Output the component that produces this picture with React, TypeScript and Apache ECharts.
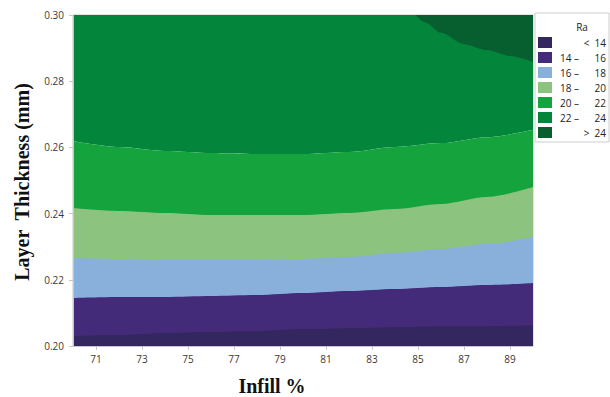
import React, { useEffect, useRef } from "react";
import * as echarts from "echarts";

// Infill (%) sample positions along each Ra contour line
const INFILL = [70, 72, 74, 76, 78, 80, 82, 84, 86, 88, 90];

// Layer thickness (mm) where Ra crosses each contour level
const RA14 = [0.203, 0.2033, 0.2039, 0.2042, 0.2045, 0.2051, 0.2054, 0.2057, 0.206, 0.206, 0.2063];
const RA16 = [0.2145, 0.2148, 0.2148, 0.2151, 0.2154, 0.216, 0.2166, 0.2172, 0.2178, 0.2184, 0.219];
const RA18 = [0.2266, 0.2263, 0.226, 0.226, 0.226, 0.2263, 0.2269, 0.2281, 0.2293, 0.2308, 0.2329];
const RA20 = [0.2417, 0.2408, 0.2402, 0.2396, 0.2396, 0.2396, 0.2402, 0.2414, 0.2429, 0.245, 0.248];
const RA22 = [0.2619, 0.2601, 0.2589, 0.2583, 0.258, 0.258, 0.2586, 0.2601, 0.2613, 0.2631, 0.2653];

// The Ra = 24 contour only exists in the upper-right corner
const INFILL_RA24 = [84.9, 85.3, 86, 87, 88, 89, 90];
const RA24 = [0.3, 0.2978, 0.2946, 0.2912, 0.2894, 0.2876, 0.2858];

const X_TICKS = [71, 73, 75, 77, 79, 81, 83, 85, 87, 89];
const Y_MIN = 0.2;
const Y_MAX = 0.3;
const Y_STEP = 0.02;

const BANDS = ["< 14", "14 – 16", "16 – 18", "18 – 20", "20 – 22", "22 – 24", "> 24"];
const BAND_COLORS = ["#34265f", "#442b79", "#88b0da", "#8cc47f", "#15a33e", "#03853c", "#075e2f"];

const SANS = "'Open Sans', 'DejaVu Sans', sans-serif";
const SERIF = "'Liberation Serif', 'Times New Roman', serif";

function bandSeries(
  bandIndex: number,
  xs: number[],
  ys: number[],
  origin: "start" | "end"
) {
  const color = BAND_COLORS[bandIndex];
  return {
    type: "line",
    name: BANDS[bandIndex],
    data: xs.map((x, i) => [x, ys[i]]),
    smooth: 0.3,
    smoothMonotone: "x",
    symbol: "none",
    showSymbol: false,
    silent: true,
    clip: true,
    lineStyle: { width: 0, color },
    itemStyle: { color },
    areaStyle: { color, opacity: 1, origin },
  };
}

// "14 – 16" keeps the low bound and dash on the left, the high bound flush right
function legendLabel(name: string) {
  if (name.includes("–")) {
    const [lo, hi] = name.split("–").map((s) => s.trim());
    return `{lo|${lo} –}{hi|${hi}}`;
  }
  return `{one|${name.replace(" ", "  ")}}`;
}

export default function App() {
  const ref = useRef<HTMLDivElement>(null);

  useEffect(() => {
    if (!ref.current) return;
    const chart = echarts.init(ref.current, null, { renderer: "svg" });

    const axisGrey = "#c6c6c6";
    const labelStyle = { fontFamily: SANS, fontSize: 10, color: "#3a3a3a" };
    const legendText = { fontFamily: SANS, fontSize: 10, color: "#222222" };

    chart.setOption({
      animation: false,
      backgroundColor: "#ffffff",
      grid: {
        left: 73,
        top: 15,
        right: 77,
        bottom: 51,
        show: true,
        borderColor: axisGrey,
        borderWidth: 1,
        backgroundColor: "transparent",
      },
      xAxis: {
        type: "value",
        min: 70,
        max: 90,
        z: 5,
        axisLine: { show: true, lineStyle: { color: axisGrey, width: 1 } },
        axisTick: {
          show: true,
          length: 4,
          customValues: X_TICKS,
          lineStyle: { color: axisGrey },
        },
        axisLabel: { ...labelStyle, margin: 8, customValues: X_TICKS },
        splitLine: { show: false },
      },
      yAxis: {
        type: "value",
        min: Y_MIN,
        max: Y_MAX,
        interval: Y_STEP,
        z: 5,
        axisLine: { show: true, lineStyle: { color: axisGrey, width: 1 } },
        axisTick: { show: true, length: 4, lineStyle: { color: axisGrey } },
        axisLabel: {
          ...labelStyle,
          margin: 9,
          formatter: (v: number) => v.toFixed(2),
        },
        splitLine: { show: false },
      },
      legend: {
        orient: "vertical",
        left: 535,
        top: 13,
        padding: [24, 3, 4, 3],
        itemGap: 4,
        itemWidth: 14,
        itemHeight: 11,
        icon: "rect",
        borderColor: "#cdcdcd",
        borderWidth: 1,
        backgroundColor: "transparent",
        selectedMode: false,
        data: BANDS,
        itemStyle: { borderWidth: 0 },
        formatter: legendLabel,
        textStyle: {
          ...legendText,
          rich: {
            lo: { ...legendText, padding: [0, 0, 0, 3], align: "left" },
            hi: { ...legendText, width: 27, align: "right" },
            one: { ...legendText, width: 49, align: "right" },
          },
        },
      },
      graphic: [
        {
          type: "text",
          x: 22,
          y: 182,
          z: 10,
          rotation: Math.PI / 2,
          style: {
            text: "Layer  Thickness (mm)",
            font: `bold 20px ${SERIF}`,
            fill: "#111111",
            align: "center",
            verticalAlign: "middle",
          },
        },
        {
          type: "text",
          x: 272,
          y: 386,
          z: 10,
          style: {
            text: "Infill %",
            font: `bold 20px ${SERIF}`,
            fill: "#111111",
            align: "center",
            verticalAlign: "middle",
          },
        },
        {
          type: "text",
          x: 582,
          y: 27,
          z: 10,
          style: {
            text: "Ra",
            font: `10px ${SANS}`,
            fill: "#222222",
            align: "center",
            verticalAlign: "middle",
          },
        },
      ],
      // Painted back to front: upper regions first, each lower band drawn over them
      series: [
        bandSeries(5, INFILL, RA22, "end"),
        bandSeries(6, INFILL_RA24, RA24, "end"),
        bandSeries(4, INFILL, RA22, "start"),
        bandSeries(3, INFILL, RA20, "start"),
        bandSeries(2, INFILL, RA18, "start"),
        bandSeries(1, INFILL, RA16, "start"),
        bandSeries(0, INFILL, RA14, "start"),
      ],
    });

    return () => chart.dispose();
  }, []);

  return (
    <div
      ref={ref}
      style={{
        position: "fixed",
        left: 0,
        top: 0,
        width: 610,
        height: 397,
        background: "#ffffff",
      }}
    />
  );
}
